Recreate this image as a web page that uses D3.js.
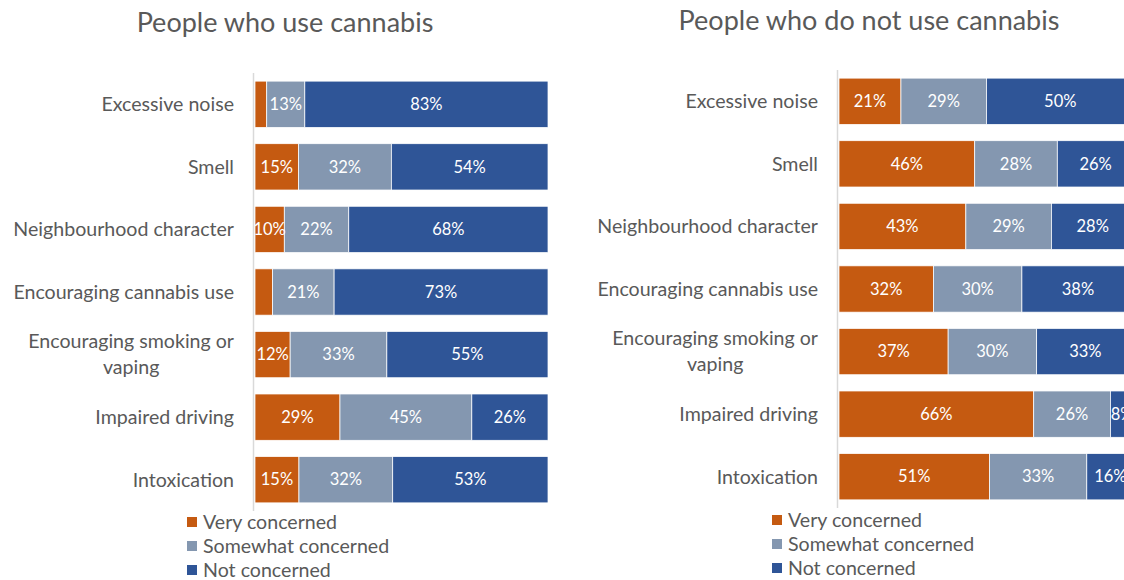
<!DOCTYPE html>
<html>
<head>
<meta charset="utf-8">
<script src="https://cdn.jsdelivr.net/npm/d3@7"></script>
<style>
  body { margin: 0; background: #fff; }
  svg { font-family: Lato, "Open Sans", sans-serif; }
</style>
</head>
<body>
<div id="chart"></div>
<script>
// Categories and series (percent)
var categories = [
  'Excessive noise',
  'Smell',
  'Neighbourhood character',
  'Encouraging cannabis use',
  'Encouraging smoking or vaping',
  'Impaired driving',
  'Intoxication'
];
var seriesNames = ['Very concerned', 'Somewhat concerned', 'Not concerned'];
var colors = ['#C55A11', '#8497B0', '#2F5597'];

// People who use cannabis
var useVery = [4, 15, 10, 6, 12, 29, 15];
var useSomewhat = [13, 32, 22, 21, 33, 45, 32];
var useNot = [83, 54, 68, 73, 55, 26, 53];
// labels hidden where the segment is too thin
var useVeryShown = [false, true, true, false, true, true, true];

// People who do not use cannabis
var nonVery = [21, 46, 43, 32, 37, 66, 51];
var nonSomewhat = [29, 28, 29, 30, 30, 26, 33];
var nonNot = [50, 26, 28, 38, 33, 8, 16];

var W = 1124, H = 580;
var svg = d3.select('#chart').append('svg').attr('width', W).attr('height', H);

var panels = [
  {
    title: 'People who use cannabis', titleX: 285, titleY: 32,
    values: [useVery, useSomewhat, useNot], shown: [useVeryShown, null, null],
    x0: 255, x1: 548, axisX: 253.5, yRange: [73, 511], labelRight: 234,
    legendX: 187, legendY: 522
  },
  {
    title: 'People who do not use cannabis', titleX: 869, titleY: 30,
    values: [nonVery, nonSomewhat, nonNot], shown: [null, null, null],
    x0: 839, x1: 1134, axisX: 837.5, yRange: [70, 508], labelRight: 818,
    legendX: 772, legendY: 520
  }
];

panels.forEach(drawPanel);

function drawPanel(p) {
  var g = svg.append('g');
  // 100% stacked: each row is normalised to its own total
  var x = d3.scaleLinear().domain([0, 1]).range([p.x0, p.x1]);
  var y = d3.scaleBand().domain(categories).range(p.yRange).paddingInner(0.26).paddingOuter(0.13);

  // title
  g.append('text')
    .attr('x', p.titleX).attr('y', p.titleY)
    .attr('text-anchor', 'middle')
    .attr('font-size', 27).attr('fill', '#595959')
    .text(p.title);

  // stacked rows
  var segs = [];
  categories.forEach(function (c, i) {
    var total = d3.sum(p.values, function (arr) { return arr[i]; });
    var start = 0;
    p.values.forEach(function (arr, s) {
      segs.push({ cat: c, s: s, v: arr[i], start: start / total, end: (start + arr[i]) / total,
        show: p.shown[s] ? p.shown[s][i] : true });
      start += arr[i];
    });
  });

  g.selectAll('rect.seg').data(segs).join('rect')
    .attr('class', 'seg')
    .attr('x', function (d) { return x(d.start); })
    .attr('y', function (d) { return y(d.cat); })
    .attr('width', function (d) { return x(d.end) - x(d.start); })
    .attr('height', y.bandwidth())
    .attr('fill', function (d) { return colors[d.s]; })
    .attr('stroke', '#fff').attr('stroke-width', 0.75);

  g.selectAll('text.val').data(segs.filter(function (d) { return d.show; })).join('text')
    .attr('class', 'val')
    .attr('x', function (d) { return (x(d.start) + x(d.end)) / 2; })
    .attr('y', function (d) { return y(d.cat) + y.bandwidth() / 2; })
    .attr('dy', '0.35em')
    .attr('text-anchor', 'middle')
    .attr('font-size', 16.5).attr('fill', '#fff')
    .text(function (d) { return d.v + '%'; });

  // category axis line
  g.append('line')
    .attr('x1', p.axisX).attr('x2', p.axisX)
    .attr('y1', p.yRange[0]).attr('y2', p.yRange[1])
    .attr('stroke', '#d9d9d9').attr('stroke-width', 1.5);

  // category labels (wrap the long one)
  categories.forEach(function (c) {
    var cy = y(c) + y.bandwidth() / 2;
    var lines = c === 'Encouraging smoking or vaping' ? ['Encouraging smoking or', 'vaping'] : [c];
    var t = g.append('text')
      .attr('font-size', 19.6).attr('fill', '#595959')
      .attr('text-anchor', lines.length > 1 ? 'middle' : 'end');
    lines.forEach(function (l, k) {
      t.append('tspan').attr('y', cy + (k - (lines.length - 1) / 2) * 26).attr('dy', '0.35em').text(l);
    });
    if (lines.length > 1) {
      var maxW = d3.max(t.selectAll('tspan').nodes(), function (n) { return n.getComputedTextLength(); });
      t.selectAll('tspan').attr('x', p.labelRight - maxW / 2);
    } else {
      t.selectAll('tspan').attr('x', p.labelRight);
    }
  });

  // legend
  var lg = g.append('g').selectAll('g').data(seriesNames).join('g')
    .attr('transform', function (d, i) { return 'translate(' + p.legendX + ',' + (p.legendY + i * 24) + ')'; });
  lg.append('rect').attr('x', 0).attr('y', -5).attr('width', 10).attr('height', 10)
    .attr('fill', function (d, i) { return colors[i]; });
  lg.append('text').attr('x', 16).attr('dy', '0.35em')
    .attr('font-size', 19.6).attr('fill', '#595959')
    .text(function (d) { return d; });
}
</script>
</body>
</html>
